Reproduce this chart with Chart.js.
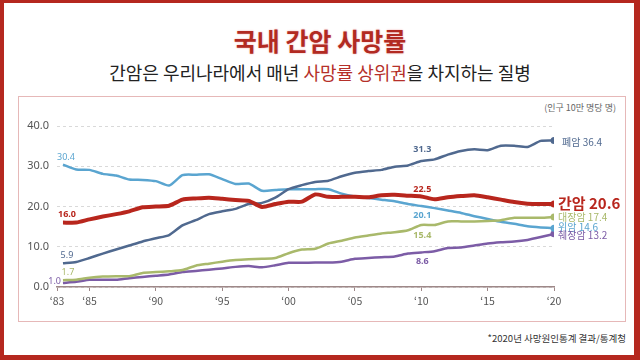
<!DOCTYPE html>
<html>
<head>
<meta charset="utf-8">
<script src="https://cdn.jsdelivr.net/npm/chart.js@4.4.0/dist/chart.umd.min.js"></script>
<style>
  body { margin: 0; background: #fff; }
  #frame {
    position: absolute; left: 0; top: 0; width: 640px; height: 360px;
    box-sizing: border-box; background: #fff;
    border: 4px solid #b5281f; border-top-width: 3px; border-right-width: 6px; border-bottom-width: 5px;
  }
  #box {
    position: absolute; left: 18px; top: 96px; width: 608px; height: 226px;
    box-sizing: border-box; border: 1px solid #e6b8b8;
  }
  .t { position: absolute; font-family: "Noto Sans CJK KR", "Noto Sans", sans-serif; white-space: nowrap; }
  #title {
    left: 0; width: 640px; top: 24px; text-align: center;
    font-size: 25px; line-height: 32px; font-weight: bold; color: #b22a22;
    text-shadow: 0 0 2px #f6cfcf, 0 0 2px #f6cfcf;
  }
  #sub {
    left: 0; width: 640px; top: 59px; text-align: center;
    font-size: 18px; line-height: 26px; color: #222;
  }
  #sub span { color: #b5302a; }
  #unit { right: 24px; top: 101px; font-size: 9px; line-height: 14px; color: #666; }
  #note { right: 14px; top: 331px; font-size: 9.5px; line-height: 14px; color: #333; }
  canvas { position: absolute; left: 0; top: 0; }
</style>
</head>
<body>
<div id="frame"></div>
<div id="box"></div>
<div class="t" id="title">국내 간암 사망률</div>
<div class="t" id="sub">간암은 우리나라에서 매년 <span>사망률 상위권</span>을 차지하는 질병</div>
<div class="t" id="unit">(인구 10만 명당 명)</div>
<div class="t" id="note">*2020년 사망원인통계 결과/통계청</div>
<canvas id="chart" width="640" height="360"></canvas>
<script>
var years = [1983,1984,1985,1986,1987,1988,1989,1990,1991,1992,1993,1994,1995,1996,1997,1998,1999,
	2000,2001,2002,2003,2004,2005,2006,2007,2008,2009,2010,2011,2012,2013,2014,2015,2016,2017,2018,2019,2020];

var lung = [5.9,6.2,7.2,8.3,9.3,10.3,11.3,12.1,12.9,15.3,16.6,18.1,18.8,19.4,20.6,20.9,22.2,
	24.3,25.3,26.1,26.4,27.5,28.4,28.8,29.1,29.9,30.2,31.3,31.7,32.9,33.8,34.2,34.0,35.1,35.1,34.8,36.3,36.4];
var liver = [16.0,16.0,16.8,17.5,18.1,18.8,19.8,20.0,20.2,21.7,22.0,22.2,21.9,21.6,21.4,19.9,20.6,
	21.2,21.2,23.0,22.4,22.4,22.4,22.3,22.8,22.9,22.7,22.5,21.8,22.3,22.6,22.8,22.3,21.7,21.1,20.7,20.6,20.6];
var colon = [1.7,1.8,2.3,2.6,2.7,2.7,3.5,3.7,3.9,4.2,5.3,5.8,6.3,6.7,6.9,7.0,7.2,
	8.4,9.3,9.5,10.8,11.5,12.3,12.8,13.3,13.6,14.1,15.4,15.4,16.3,16.3,16.3,16.4,16.6,17.2,17.2,17.2,17.4];
var stomach = [30.4,29.2,29.1,28.1,27.7,26.7,26.6,26.3,25.2,27.8,27.9,28.0,26.8,25.6,25.7,23.9,24.1,
	24.3,24.3,24.3,24.3,23.2,22.5,22.1,21.7,21.3,20.6,20.1,19.6,19.0,18.4,17.6,16.9,16.2,15.7,15.1,14.8,14.6];
var pancreas = [1.0,1.3,1.8,1.8,1.8,2.2,2.5,2.8,3.1,3.7,4.0,4.3,4.6,5.0,5.2,4.9,5.4,
	6.0,6.0,6.1,6.1,6.3,7.0,7.2,7.4,7.6,8.3,8.6,8.9,9.7,9.8,10.3,10.8,11.1,11.3,11.7,12.4,13.2];

var seriesNames = ['폐암', '간암', '대장암', '위암', '췌장암'];
var tickYears = [1983, 1985, 1990, 1995, 2000, 2005, 2010, 2015, 2020];
var tickLabels = ['‘83', '‘85', '‘90', '‘95', '‘00', '‘05', '‘10', '‘15', '‘20'];
var calloutYear = 2010;

var numFont = '"Noto Sans", sans-serif';
var krFont = '"Noto Sans CJK KR", sans-serif';

// styling per series, same order as seriesNames
var looks = [
	{ color: '#50698f', width: 2.5, start: [4, -8, 'center', 'normal'], mid: [1, -12], end: [8, 2, 'normal 10px'] },
	{ color: '#b8261d', width: 4, start: [4, -8, 'center', 'bold'], mid: [1, -7], end: [4, -1, 'bold 15px'] },
	{ color: '#a9b96b', width: 2.5, start: [5, -7.5, 'center', 'normal'], mid: [1, 10], end: [4, 0, 'normal 10px'] },
	{ color: '#5aa5d0', width: 2.5, start: [3, -7, 'center', 'normal'], mid: [1, 9], end: [4, -1.5, 'normal 10px'] },
	{ color: '#7c5ca6', width: 2.5, start: [-2, -1.5, 'right', 'normal'], mid: [1, 9.5], end: [4, 1.5, 'normal 10px'] }
];

var allSeries = [lung, liver, colon, stomach, pancreas];
var last = years.length - 1;

var datasets = allSeries.map(function(vals, k) {
	return {
		label: seriesNames[k],
		data: vals.map(function(v, i) { return { x: years[i], y: v }; }),
		borderColor: looks[k].color,
		backgroundColor: looks[k].color,
		borderWidth: looks[k].width,
		tension: 0.2,
		order: k === 1 ? 0 : 1,
		pointRadius: function(c) { return c.dataIndex === last ? 3.5 : 0; },
		pointBorderWidth: 0,
		pointHoverRadius: 0
	};
});

var valueLabels = {
	id: 'valueLabels',
	afterDatasetsDraw: function(chart) {
		var ctx = chart.ctx;
		var xs = chart.scales.x, ys = chart.scales.y;
		var mi = years.indexOf(calloutYear);
		ctx.save();
		ctx.textBaseline = 'middle';
		allSeries.forEach(function(vals, k) {
			var lk = looks[k];
			ctx.fillStyle = lk.color;
			// first year
			ctx.font = lk.start[3] + ' 9px ' + numFont;
			ctx.textAlign = lk.start[2];
			ctx.fillText(vals[0].toFixed(1), xs.getPixelForValue(years[0]) + lk.start[0], ys.getPixelForValue(vals[0]) + lk.start[1]);
			// callout year
			ctx.font = 'bold 9px ' + numFont;
			ctx.textAlign = 'center';
			ctx.fillText(vals[mi].toFixed(1), xs.getPixelForValue(years[mi]) + lk.mid[0], ys.getPixelForValue(vals[mi]) + lk.mid[1]);
			// last year
			ctx.font = lk.end[2] + ' ' + krFont;
			ctx.textAlign = 'left';
			ctx.fillText(seriesNames[k] + ' ' + vals[last].toFixed(1), xs.getPixelForValue(years[last]) + lk.end[0], ys.getPixelForValue(vals[last]) + lk.end[1]);
		});
		ctx.restore();
	}
};

var ctx = document.getElementById('chart').getContext('2d');
window.myLine = new Chart(ctx, {
	type: 'line',
	data: { datasets: datasets },
	options: {
		responsive: false,
		animation: false,
		layout: { padding: { left: 0, top: 126, right: 86, bottom: 0 } },
		plugins: { legend: { display: false }, tooltip: { enabled: false } },
		scales: {
			x: {
				type: 'linear',
				min: 1982.55,
				max: 2020,
				afterFit: function(s) { s.height = 73; },
				afterBuildTicks: function(s) {
					s.ticks = tickYears.map(function(y, i) { return { value: i === 0 ? s.min : y }; });
				},
				ticks: {
					autoSkip: false, maxRotation: 0, padding: 4,
					color: '#555', font: { family: krFont, size: 10.5 },
					callback: function(v, i) { return tickLabels[i]; }
				},
				grid: { drawOnChartArea: false, drawTicks: true, tickLength: 4, color: '#9e8888' },
				border: { color: '#9e8888', width: 1.5 }
			},
			y: {
				min: 0,
				max: 40,
				afterFit: function(s) { s.width = 57; },
				ticks: {
					stepSize: 10, padding: 8, color: '#555',
					font: { family: numFont, size: 11 },
					callback: function(v) { return v.toFixed(1); }
				},
				grid: { drawTicks: false, color: '#d9d9d9' },
				border: { display: false, dash: [3, 3] }
			}
		}
	},
	plugins: [valueLabels]
});
</script>
</body>
</html>
